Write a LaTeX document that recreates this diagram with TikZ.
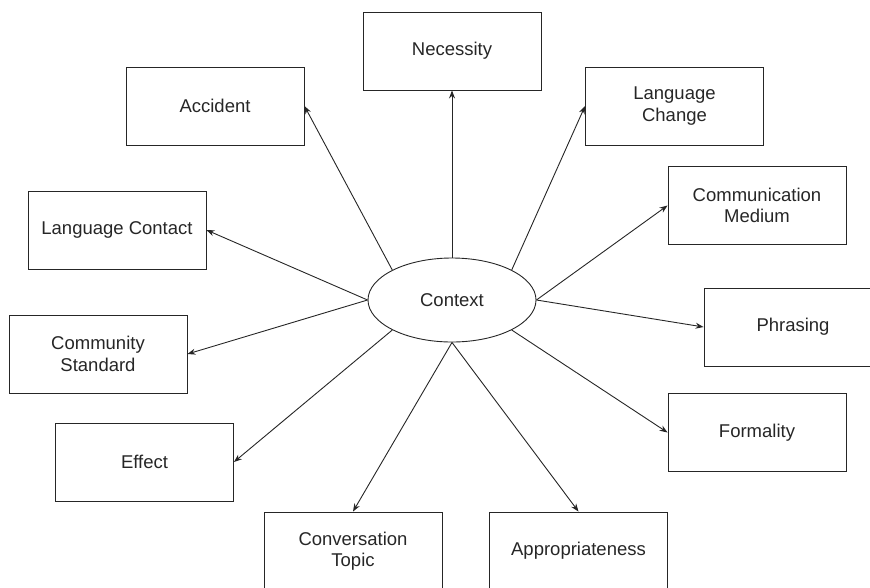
\documentclass[tikz,border=0pt]{standalone}
\usepackage{fontspec}
\setmainfont{Liberation Sans}
\usetikzlibrary{arrows.meta}
\usetikzlibrary{shapes.geometric}
\tikzset{%
  spoke/.style = {-{Stealth[length=8pt,width=6pt]},line width=0.9pt,
        draw=black!85},
  hub/.style = {ellipse,draw=black!85,line width=0.9pt,minimum width=168pt,
        minimum height=84pt,font=\fontsize{18.5pt}{21.5pt}\selectfont},
  b/.style = {rectangle,draw=black!85,line width=0.9pt,minimum width=178pt,
        minimum height=78pt,align=center,
        font=\fontsize{18.5pt}{21.5pt}\selectfont}
}

\begin{document}
\begin{tikzpicture}[x=1pt,y=-1pt,text=black!85]
    \clip (0,0) rectangle (870,587);
    \node[hub] (ctx) at (452,300) {Context};
    % boxes around the hub
    \node[b] (nec) at (452,51) {Necessity};
    \node[b] (acc) at (215,106) {Accident};
    \node[b] (chg) at (674.5,106) {Language\\Change};
    \node[b] (cnt) at (117,230) {Language Contact};
    \node[b] (med) at (757,205.5) {Communication\\Medium};
    \node[b] (phr) at (793,327) {Phrasing};
    \node[b] (std) at (98,354) {Community\\Standard};
    \node[b] (frm) at (757,432.5) {Formality};
    \node[b] (eff) at (144.5,462) {Effect};
    \node[b] (tpc) at (353,551) {Conversation\\Topic};
    \node[b] (apr) at (578.5,551) {Appropriateness};
    % spokes
    \foreach \from/\to in {north west/acc.east, north/nec.south,
            north east/chg.west, east/med.west, east/phr.west,
            south east/frm.west, south/apr.north, south/tpc.north,
            south west/eff.east, west/std.east, west/cnt.east}
        \draw[spoke] (ctx.\from) -- (\to);
\end{tikzpicture}
\end{document}
